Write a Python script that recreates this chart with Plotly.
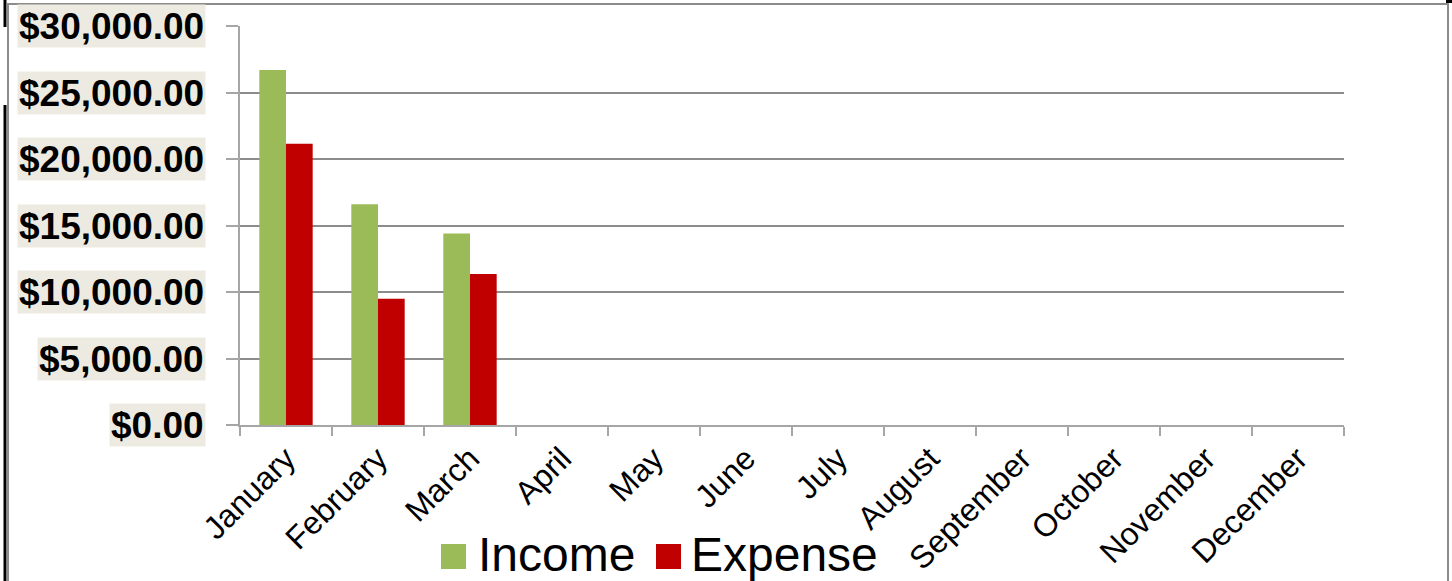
import plotly.graph_objects as go

# ---- data ----
months = ["January", "February", "March", "April", "May", "June", "July",
          "August", "September", "October", "November", "December"]
income = [26700, 16600, 14400, None, None, None, None, None, None, None, None, None]
expense = [21150, 9500, 11350, None, None, None, None, None, None, None, None, None]
y_ticks = [0, 5000, 10000, 15000, 20000, 25000, 30000]
y_tick_labels = ["$0.00", "$5,000.00", "$10,000.00", "$15,000.00",
                 "$20,000.00", "$25,000.00", "$30,000.00"]
series_names = ["Income", "Expense"]
series_colors = ["#9BBB59", "#C00000"]

# ---- layout geometry (pixels) ----
W, H = 1452, 581
PL, PR, PT, PB = 240, 1344, 26, 425


def px_x(p):
    return (p - PL) / (PR - PL)


def px_y(p):
    return (PB - p) / (PB - PT)


fig = go.Figure()
fig.add_trace(go.Bar(x=months, y=income, name=series_names[0],
                     marker=dict(color=series_colors[0], line=dict(width=0))))
fig.add_trace(go.Bar(x=months, y=expense, name=series_names[1],
                     marker=dict(color=series_colors[1], line=dict(width=0))))

grid_col = "#8C8C8C"
axis_col = "#A6A6A6"

fig.update_layout(
    width=W, height=H,
    margin=dict(l=PL, r=W - PR, t=PT, b=H - PB, pad=0, autoexpand=False),
    paper_bgcolor="white", plot_bgcolor="white",
    barmode="group", bargap=0.42, bargroupgap=0,
    showlegend=False,
    font=dict(family="Liberation Sans, Arial, sans-serif", color="black"),
)

fig.update_xaxes(
    type="category", categoryorder="array", categoryarray=months,
    tickson="boundaries", ticks="outside", ticklen=9, tickwidth=2, tickcolor=axis_col,
    showline=True, linecolor=axis_col, linewidth=2,
    showgrid=False, tickangle=-45, automargin=False,
    tickfont=dict(size=32, family="Liberation Sans, Arial, sans-serif", color="black"),
)
fig.update_yaxes(
    range=[0, 30000], tickvals=y_ticks, showticklabels=False, automargin=False,
    ticks="outside", ticklen=12, tickwidth=2, tickcolor=axis_col,
    showline=True, linecolor=axis_col, linewidth=2,
    showgrid=True, gridcolor=grid_col, gridwidth=1.5, zeroline=False,
)

annotations = []
# y tick labels with beige background
for v, lab in zip(y_ticks, y_tick_labels):
    annotations.append(dict(
        x=px_x(206), xref="paper", y=v, yref="y",
        xanchor="right", yanchor="middle", showarrow=False,
        text="<b>" + lab + "</b>",
        font=dict(size=37, family="Liberation Sans, Arial Black, Arial, sans-serif", color="black"),
        bgcolor="#EDEBE1", borderpad=1, height=40,
    ))

# custom legend
legend_sq = [(441, 466), (656, 681)]
legend_txt_x = [476, 689]
shapes = []
for (x0, x1), tx, name, col in zip(legend_sq, legend_txt_x, series_names, series_colors):
    shapes.append(dict(type="rect", xref="paper", yref="paper",
                       x0=px_x(x0), x1=px_x(x1), y0=px_y(569), y1=px_y(544),
                       fillcolor=col, line=dict(width=0)))
    annotations.append(dict(
        x=px_x(tx), xref="paper", y=px_y(526), yref="paper",
        xanchor="left", yanchor="top", showarrow=False,
        text=name, font=dict(size=48, color="black",
                             family="Liberation Sans, Arial, sans-serif"),
    ))

# outer frame (gray) and black cell edges
shapes.append(dict(type="rect", xref="paper", yref="paper",
                   x0=px_x(8), x1=px_x(1448), y0=px_y(600), y1=px_y(4),
                   line=dict(color="#8C8C8C", width=2), fillcolor="rgba(0,0,0,0)"))
shapes.append(dict(type="line", xref="paper", yref="paper",
                   x0=px_x(5), x1=px_x(5), y0=px_y(0), y1=px_y(27),
                   line=dict(color="black", width=3)))
shapes.append(dict(type="line", xref="paper", yref="paper",
                   x0=px_x(5), x1=px_x(5), y0=px_y(105), y1=px_y(590),
                   line=dict(color="black", width=3)))
shapes.append(dict(type="rect", xref="paper", yref="paper",
                   x0=px_x(1446), x1=px_x(1453), y0=px_y(3), y1=px_y(-1),
                   fillcolor="black", line=dict(width=0)))

fig.update_layout(annotations=annotations, shapes=shapes)

fig.write_html("out.html", config={"displayModeBar": False},
               post_script="document.body.style.margin='0';document.body.style.overflow='hidden';")
